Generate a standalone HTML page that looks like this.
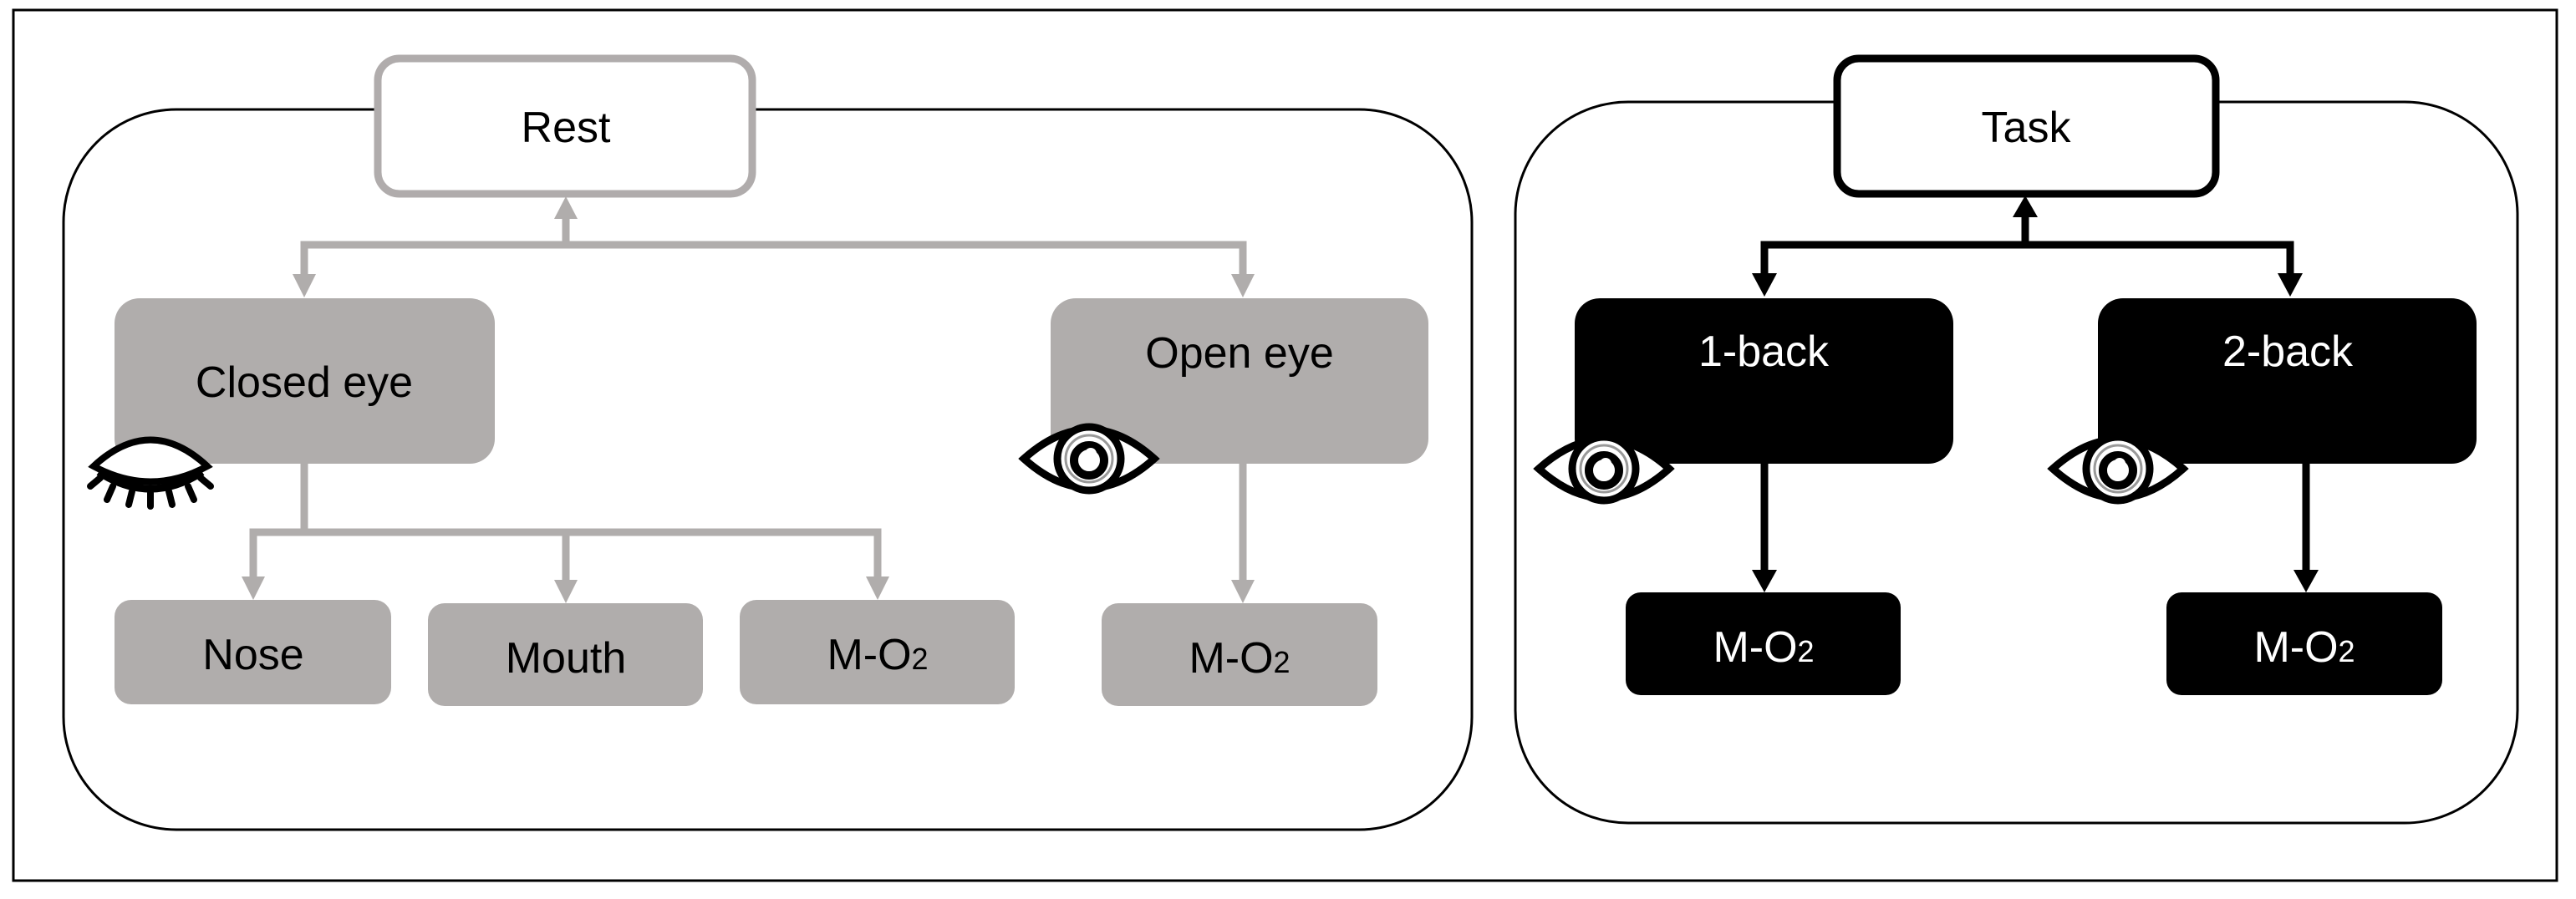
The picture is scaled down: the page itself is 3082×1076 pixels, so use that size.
<!DOCTYPE html>
<html><head><meta charset="utf-8"><style>
html,body{margin:0;padding:0;background:#fff;}
svg{display:block;}
text{font-family:"Liberation Sans",sans-serif;font-size:52px;text-anchor:middle;}
</style></head><body>
<svg width="3082" height="1076" viewBox="0 0 3082 1076" xmlns="http://www.w3.org/2000/svg">
<defs>
<g id="eye">
  <path d="M-78,0 Q0,-70 78,0 Q0,70 -78,0 Z" fill="#fff" stroke="#000" stroke-width="9"/>
  <circle cx="0" cy="0" r="38" fill="#fff" stroke="#000" stroke-width="9"/>
  <circle cx="0" cy="0" r="28" fill="none" stroke="#999" stroke-width="3"/>
  <circle cx="0" cy="2" r="18" fill="none" stroke="#000" stroke-width="10"/>
  <circle cx="2" cy="-6" r="7" fill="#fff"/>
</g>
</defs>
<rect x="16" y="12" width="3043" height="1042" fill="none" stroke="#000" stroke-width="3"/>

<rect x="76" y="131" width="1685" height="862" rx="135" ry="135" fill="none" stroke="#000" stroke-width="3"/>
<rect x="1813" y="122" width="1199" height="863" rx="135" ry="135" fill="none" stroke="#000" stroke-width="3"/>

<rect x="452" y="70" width="448" height="162" rx="26" fill="#fff" stroke="#b0acac" stroke-width="9"/>
<text x="677" y="170">Rest</text>

<g stroke="#b0adac" stroke-width="9" fill="none">
  <path d="M677,293 V256"/>
  <path d="M364,329 V293 H1487 V329"/>
  <path d="M364,555 V637"/>
  <path d="M303,693 V637 H1050 V693"/>
  <path d="M677,637 V697"/>
  <path d="M1487,555 V697"/>
</g>
<g fill="#b0adac">
  <polygon points="663,262 691,262 677,235"/>
  <polygon points="350,328 378,328 364,356"/>
  <polygon points="1473,328 1501,328 1487,356"/>
  <polygon points="289,690 317,690 303,718"/>
  <polygon points="663,694 691,694 677,722"/>
  <polygon points="1036,690 1064,690 1050,718"/>
  <polygon points="1473,694 1501,694 1487,722"/>
</g>

<g fill="#b0adac">
  <rect x="137" y="357" width="455" height="198" rx="30"/>
  <rect x="1257" y="357" width="452" height="198" rx="30"/>
  <rect x="137" y="718" width="331" height="125" rx="20"/>
  <rect x="512" y="722" width="329" height="123" rx="20"/>
  <rect x="885" y="718" width="329" height="125" rx="20"/>
  <rect x="1318" y="722" width="330" height="123" rx="20"/>
</g>
<text x="364" y="475">Closed eye</text>
<text x="1483" y="440">Open eye</text>
<text x="303" y="801">Nose</text>
<text x="677" y="805">Mouth</text>
<text x="1050" y="801">M-O<tspan font-size="36">2</tspan></text>
<text x="1483" y="805">M-O<tspan font-size="36">2</tspan></text>

<g transform="translate(180,560)">
  <path d="M-68,-2 Q0,-65 68,-2 Q0,35 -68,-2 Z" fill="#fff" stroke="#000" stroke-width="8"/>
  <path d="M-62,5 Q0,45 62,5" fill="none" stroke="#000" stroke-width="9"/>
  <g stroke="#000" stroke-width="8" stroke-linecap="round">
    <line x1="-60" y1="12" x2="-72" y2="22"/>
    <line x1="-45" y1="22" x2="-52" y2="38"/>
    <line x1="-22" y1="28" x2="-26" y2="44"/>
    <line x1="0" y1="30" x2="0" y2="46"/>
    <line x1="22" y1="28" x2="26" y2="44"/>
    <line x1="45" y1="22" x2="52" y2="38"/>
    <line x1="60" y1="12" x2="72" y2="22"/>
  </g>
</g>
<use href="#eye" transform="translate(1303,549)"/>

<rect x="2198" y="70" width="453" height="162" rx="26" fill="#fff" stroke="#000" stroke-width="9"/>
<text x="2424" y="170">Task</text>

<g stroke="#000" stroke-width="9" fill="none">
  <path d="M2423,293 V256"/>
  <path d="M2111,329 V293 H2740 V329"/>
  <path d="M2111,555 V685"/>
  <path d="M2759,555 V685"/>
</g>
<g fill="#000">
  <polygon points="2408,260 2438,260 2423,234"/>
  <polygon points="2096,327 2126,327 2111,355"/>
  <polygon points="2725,327 2755,327 2740,355"/>
  <polygon points="2096,682 2126,682 2111,709"/>
  <polygon points="2744,682 2774,682 2759,709"/>
</g>
<g fill="#000">
  <rect x="1884" y="357" width="453" height="198" rx="30"/>
  <rect x="2510" y="357" width="453" height="198" rx="30"/>
  <rect x="1945" y="709" width="329" height="123" rx="18"/>
  <rect x="2592" y="709" width="330" height="123" rx="18"/>
</g>
<g fill="#fff">
  <text x="2110" y="438">1-back</text>
  <text x="2737" y="438">2-back</text>
  <text x="2110" y="792">M-O<tspan font-size="36">2</tspan></text>
  <text x="2757" y="792">M-O<tspan font-size="36">2</tspan></text>
</g>
<use href="#eye" transform="translate(1919,561)"/>
<use href="#eye" transform="translate(2534,561)"/>
</svg>
</body></html>
